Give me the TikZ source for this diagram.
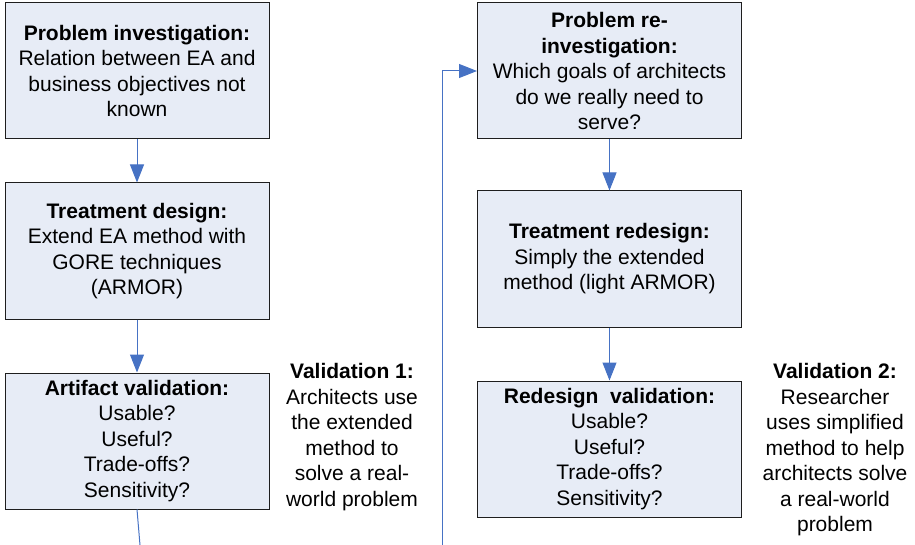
\documentclass[tikz,border=0pt]{standalone}
\usepackage{fontspec}
\setmainfont{Liberation Sans}
\usetikzlibrary{arrows.meta}
\definecolor{boxfill}{RGB}{231,236,246}
\definecolor{boxline}{RGB}{30,30,30}
\definecolor{arrblue}{RGB}{70,114,196}
\tikzset{
  stagebox/.style={draw=boxline, fill=boxfill, line width=1pt, minimum width=264pt, minimum height=136pt,
    inner sep=0pt, align=center, font=\fontsize{21}{25.5}\selectfont},
  valtext/.style={align=center, inner sep=0pt, font=\fontsize{21}{25.5}\selectfont},
  arr/.style={draw=arrblue, line width=1pt, -{Triangle[length=18pt,width=14pt]}},
  plainline/.style={draw=arrblue, line width=1pt}
}
\begin{document}
\begin{tikzpicture}[x=1pt,y=-1pt]
\useasboundingbox (0,0) rectangle (915,545);
\node[stagebox] (b1) at (137,71) {\textbf{Problem investigation:}\\Relation between EA and\\business objectives not\\known};
\node[stagebox] (b2) at (137,251) {\textbf{Treatment design:}\\Extend EA method with\\GORE techniques\\(ARMOR)};
\node[stagebox] (b3) at (137,441) {\textbf{Artifact validation:}\\Usable?\\Useful?\\Trade-offs?\\Sensitivity?};
\node[stagebox] (b4) at (609.5,71) {\textbf{Problem re-}\\\textbf{investigation:}\\Which goals of architects\\do we really need to\\serve?};
\node[stagebox] (b5) at (609.5,259) {\textbf{Treatment redesign:}\\Simply the extended\\method (light ARMOR)};
\node[stagebox] (b6) at (609.5,449) {\textbf{Redesign\ \ validation:}\\Usable?\\Useful?\\Trade-offs?\\Sensitivity?};
\node[valtext] (v1) at (352,437) {\textbf{Validation 1:}\\Architects use\\the extended\\method to\\solve a real-\\world problem};
\node[valtext] (v2) at (835,450) {\textbf{Validation 2:}\\Researcher\\uses simplified\\method to help\\architects solve\\a real-world\\problem};
\coordinate (e1) at (140,545);
\coordinate (e2) at (442,545);
\coordinate (c2) at (442,71);
\draw[arr] (b1) -- (b2);
\draw[arr] (b2) -- (b3);
\draw[arr] (b4) -- (b5);
\draw[arr] (b5) -- (b6);
\draw[plainline] (b3.south) -- (e1);
\draw[arr] (e2) -- (c2) -- (b4.west);
\end{tikzpicture}
\end{document}
